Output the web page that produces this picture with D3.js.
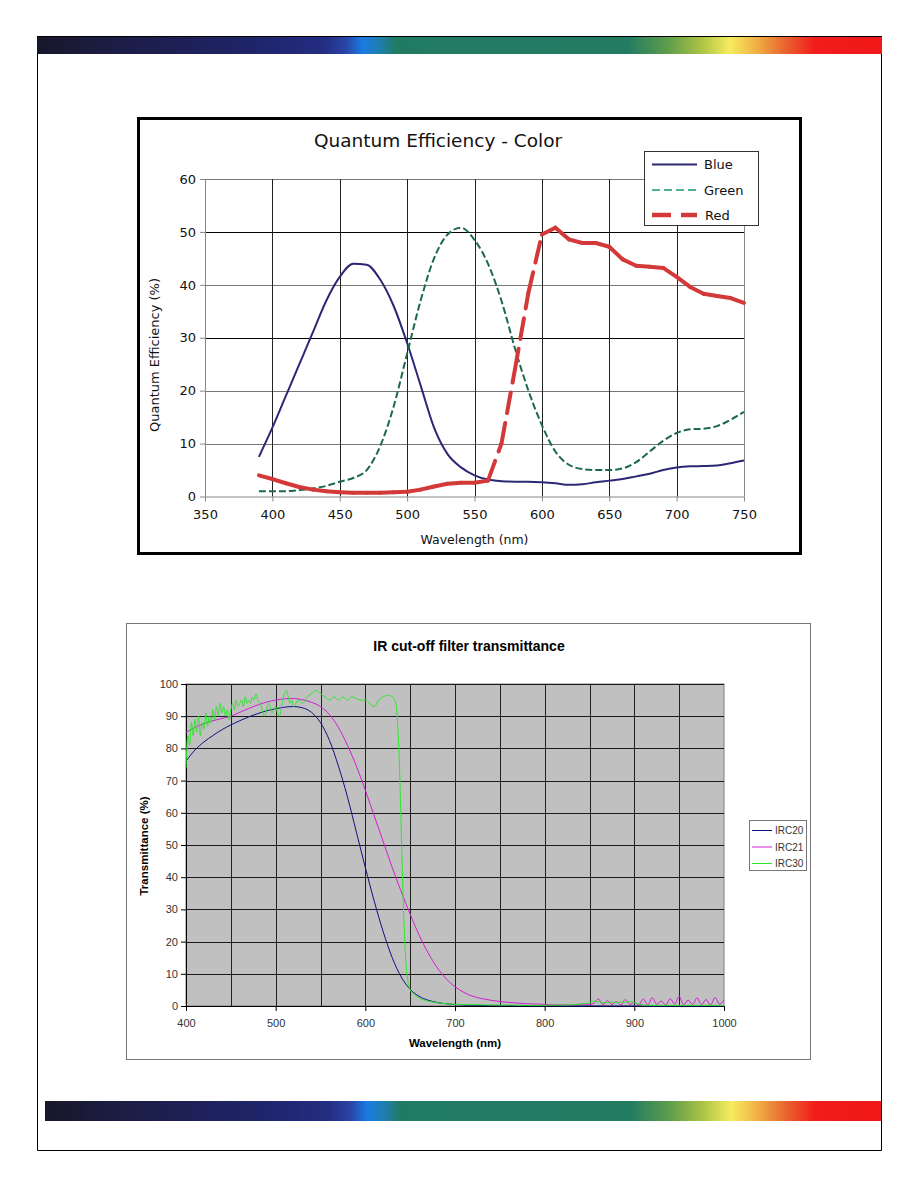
<!DOCTYPE html>
<html><head><meta charset="utf-8">
<script src="https://cdn.jsdelivr.net/npm/d3@7"></script>
<style>body{margin:0;background:#fff;} svg{display:block}</style>
</head><body>
<svg id="page" width="918" height="1188"></svg>
<script>
// ---------- Quantum Efficiency chart data ----------
const qeWavelength = [390,400,410,420,430,440,450,460,470,480,490,500,510,520,530,540,550,560,570,580,590,600,610,620,630,640,650,660,670,680,690,700,710,720,730,740,750];
const qeBlue  = [7.5,13,19,25,31,37,41.5,44,43.8,41,36,29,21,13,8,5.5,4,3.2,2.9,2.8,2.8,2.7,2.5,2.2,2.3,2.7,3.0,3.3,3.8,4.3,5.0,5.5,5.7,5.75,5.85,6.3,6.8];
const qeGreen = [1,1,1,1.2,1.5,2,2.8,3.5,5,9.5,17,27,37,45,49.5,50.8,48.5,44,37,28,20,13.5,8.5,6,5.2,5,5,5.3,6.5,8.5,10.5,12,12.7,12.8,13.3,14.5,16];
const qeRed   = [4,3.3,2.5,1.8,1.3,1.0,0.8,0.7,0.7,0.7,0.8,0.9,1.3,1.9,2.4,2.6,2.6,3.0,10,24,38.5,49.5,50.8,48.6,47.9,47.9,47.2,44.8,43.6,43.4,43.2,41.5,39.6,38.3,37.9,37.5,36.6];
const qeXTicks = [350,400,450,500,550,600,650,700,750];
const qeYTicks = [0,10,20,30,40,50,60];
const qeSeriesNames = ["Blue","Green","Red"];

// ---------- IR cut-off filter chart data ----------
const irc20Wavelength = [400,410,420,430,440,450,460,470,480,490,500,510,520,530,540,550,560,570,580,590,600,610,620,630,640,650,660,670,680,690,700,720,750,800,850,900,950,1000];
const irc20Values = [76,79.5,82,84,85.8,87.3,88.6,89.8,90.8,91.7,92.3,92.8,93,92.6,91.2,88,82.5,74.5,65,54,43,32.5,23,15,9,5.2,3,1.8,1.1,0.7,0.45,0.2,0.1,0.05,0,0,0,0];

const irc21Wavelength = [400,410,420,430,440,450,460,470,480,490,500,510,520,530,540,550,560,570,580,590,600,610,620,630,640,650,660,670,680,690,700,710,720,730,740,750,760,770,780,790,800,
  810,820,830,840,850,855,860,865,870,875,880,885,890,895,900,905,910,915,920,925,930,935,940,945,950,955,960,965,970,975,980,985,990,995,1000];
const irc21Values = [85,86.5,87.7,88.6,89.3,90,91.2,92.4,93.5,94.4,95,95.4,95.5,95.1,94.3,93,90.5,86.5,81,74.5,67,59,51,43,35.5,28.5,22,16.5,12,8.5,6,4.2,3,2.3,1.8,1.4,1.1,0.9,0.7,0.6,0.5,
  0.35,0.4,0.3,0.6,0.5,0.9,2.2,0.4,1.7,0.5,1.4,0.3,2.0,0.5,1.1,0.3,2.2,0.4,2.6,0.5,1.5,0.3,2.3,0.6,3.0,0.4,1.8,0.5,2.5,0.4,2.0,0.3,2.6,0.6,1.8];

const irc30Wavelength = [400,402,404,406,408,410,412,414,416,418,420,422,424,426,428,430,432,434,436,438,440,442,444,446,448,450,452,454,456,458,460,462,464,466,468,470,472,474,476,478,480,482,484,486,488,490,492,494,496,498,500,502,504,506,508,510,512,514,516,518,520,
  525,530,535,540,545,550,555,560,565,570,575,580,585,590,595,600,605,610,615,620,625,630,
  634,636,638,640,642,644,646,648,650,
  655,660,670,680,690,700,720,740,760,780,800,810,820,830,840,845,850,855,860,865,870,875,880,885,890,895,900,905,910,920,940,960,980,1000];
const irc30Values = [74,84,81,88,84,89,85,90,84,88,86,91,87,90,88,92,89,93,90,94,91,93,90,92,89,92,94,92,95,93,94,95,93,96,94,95,94,96,95,97,95,94,93,91,90,92,94,93,91,92,93,91,90,92,95,97,98,96,94,95,93,
  95,94,96,97,98,97,96,95,96,95,96,95,96,95.5,95,95,94,93,95,96,96.5,96,
  94,88,75,55,35,20,11,7,5,
  3.5,2.5,1.5,1.0,0.7,0.5,0.4,0.3,0.3,0.2,0.2,0.3,0.3,0.4,0.6,0.8,1.0,1.6,1.3,1.1,1.0,1.3,0.9,1.3,1.1,1.5,1.0,0.6,0.3,0.2,0.2,0.2,0.2,0.2];
const irXTicks = [400,500,600,700,800,900,1000];
const irXGrid = [450,500,550,600,650,700,750,800,850,900,950];
const irYTicks = [0,10,20,30,40,50,60,70,80,90,100];
const irSeriesNames = ["IRC20","IRC21","IRC30"];

const svg = d3.select("#page");

// ---------- page decoration ----------
const defs = svg.append("defs");
const grad = defs.append("linearGradient").attr("id","spectrum").attr("x1","0").attr("x2","1").attr("y1","0").attr("y2","0");
[[0,"#17172a"],[0.08,"#1c1c42"],[0.25,"#1f2468"],[0.34,"#232d82"],[0.365,"#2a44a6"],[0.385,"#1b7ae2"],[0.405,"#1e7fb0"],[0.425,"#217a62"],
 [0.70,"#237c62"],[0.745,"#5c9c4c"],[0.785,"#a9c244"],[0.82,"#f6ec5e"],[0.85,"#f0b245"],[0.885,"#e8652f"],[0.92,"#f11c1c"],[1,"#f01818"]]
 .forEach(s => grad.append("stop").attr("offset",s[0]).attr("stop-color",s[1]));

svg.append("rect").attr("x",37).attr("y",36).attr("width",845).attr("height",18).attr("fill","url(#spectrum)");
svg.append("line").attr("x1",37).attr("x2",882).attr("y1",36.5).attr("y2",36.5).attr("stroke","#000");
svg.append("rect").attr("x",45).attr("y",1101).attr("width",837).attr("height",20).attr("fill","url(#spectrum)");
svg.append("path").attr("d","M37.5,54 V1150.5 H881.5 V54").attr("fill","none").attr("stroke","#000").attr("stroke-width",1);

// ---------- Quantum Efficiency chart ----------
const qe = svg.append("g");
qe.append("rect").attr("x",138.5).attr("y",118.5).attr("width",662).attr("height",435)
  .attr("fill","#fff").attr("stroke","#000").attr("stroke-width",3);

const xQ = d3.scaleLinear().domain([350,750]).range([205,744]);
const yQ = d3.scaleLinear().domain([0,60]).range([496.5,179]);
const qeFont = "DejaVu Sans, Verdana, sans-serif";

// gridlines
qe.append("g").selectAll("line").data(qeYTicks.filter(v=>v>0)).join("line")
  .attr("x1",xQ(350)).attr("x2",xQ(750))
  .attr("y1",d=>Math.round(yQ(d))+0.5).attr("y2",d=>Math.round(yQ(d))+0.5)
  .attr("stroke",d=>(d===30||d===50)?"#000":"#777").attr("stroke-width",1);
qe.append("g").selectAll("line").data(qeXTicks.filter(v=>v>350)).join("line")
  .attr("x1",d=>Math.round(xQ(d))+0.5).attr("x2",d=>Math.round(xQ(d))+0.5)
  .attr("y1",yQ(0)).attr("y2",yQ(60))
  .attr("stroke",d=>d===750?"#888":"#222").attr("stroke-width",1);

// axes
const qeLeft = qe.append("g").attr("transform",`translate(${xQ(350)},0)`)
  .call(d3.axisLeft(yQ).tickValues(qeYTicks).tickSize(5).tickSizeOuter(0).tickPadding(4));
const qeBottom = qe.append("g").attr("transform",`translate(0,${yQ(0)})`)
  .call(d3.axisBottom(xQ).tickValues(qeXTicks).tickSize(5).tickSizeOuter(0).tickPadding(8));
[qeLeft,qeBottom].forEach(a=>{
  a.attr("font-family",qeFont).attr("font-size",13);
  a.selectAll("path,line").attr("stroke","#888");
  a.selectAll("text").attr("fill","#111");
});

// series
const qeLineSmooth = d3.line().x(d=>xQ(d[0])).y(d=>yQ(d[1])).curve(d3.curveMonotoneX);
qe.append("path").attr("d",qeLineSmooth(d3.zip(qeWavelength,qeBlue)))
  .attr("fill","none").attr("stroke","#2c2876").attr("stroke-width",2);
qe.append("path").attr("d",qeLineSmooth(d3.zip(qeWavelength,qeGreen)))
  .attr("fill","none").attr("stroke","#1d6a4b").attr("stroke-width",2).attr("stroke-dasharray","7,3");
// red dashed: dash pattern restarts on every segment (as in the original rendering)
const redPts = d3.zip(qeWavelength,qeRed);
const segLine = d3.line().x(d=>xQ(d[0])).y(d=>yQ(d[1]));
qe.append("g").selectAll("path").data(d3.pairs(redPts)).join("path")
  .attr("d",d=>segLine(d)).attr("fill","none").attr("stroke","#d4393a").attr("stroke-width",4)
  .attr("stroke-dasharray","21,10").attr("stroke-linecap","round");

// title & axis labels
qe.append("text").attr("x",314).attr("y",147).attr("font-family",qeFont).attr("font-size",18.5).attr("fill","#111")
  .text("Quantum Efficiency - Color");
qe.append("text").attr("x",(xQ(350)+xQ(750))/2).attr("y",544).attr("text-anchor","middle")
  .attr("font-family",qeFont).attr("font-size",12.5).attr("fill","#111").text("Wavelength (nm)");
qe.append("text").attr("transform","translate(159,355) rotate(-90)").attr("text-anchor","middle")
  .attr("font-family",qeFont).attr("font-size",13).attr("fill","#111").text("Quantum Efficiency (%)");

// legend
const qeLeg = qe.append("g");
qeLeg.append("rect").attr("x",644.5).attr("y",151.5).attr("width",114).attr("height",74)
  .attr("fill","#fff").attr("stroke","#333").attr("stroke-width",1);
const qeLegStyles = [
  {stroke:"#2c2876", w:2, dash:null, y:164.5},
  {stroke:"#4fb090", w:2, dash:"8,4", y:190},
  {stroke:"#d4393a", w:4.5, dash:"19,10", y:215}
];
qeSeriesNames.forEach((name,i)=>{
  const s = qeLegStyles[i];
  qeLeg.append("line").attr("x1",652).attr("x2",697).attr("y1",s.y).attr("y2",s.y)
    .attr("stroke",s.stroke).attr("stroke-width",s.w).attr("stroke-dasharray",s.dash);
  qeLeg.append("text").attr("x",i===2?705:704).attr("y",s.y+4.8).attr("font-family",qeFont).attr("font-size",13)
    .attr("fill","#111").text(name);
});

// ---------- IR cut-off filter chart ----------
const ir = svg.append("g");
const irFont = "Liberation Sans, Arial, sans-serif";
ir.append("rect").attr("x",126.5).attr("y",623.5).attr("width",684).attr("height",436)
  .attr("fill","#fff").attr("stroke","#777").attr("stroke-width",1);

const xI = d3.scaleLinear().domain([400,1000]).range([186,724]);
const yI = d3.scaleLinear().domain([0,100]).range([1006,684]);

ir.append("rect").attr("x",xI(400)).attr("y",yI(100)).attr("width",xI(1000)-xI(400)).attr("height",yI(0)-yI(100))
  .attr("fill","#c0c0c0").attr("stroke","#808080");
ir.append("g").selectAll("line").data(irYTicks.filter(v=>v>0)).join("line")
  .attr("x1",xI(400)).attr("x2",xI(1000))
  .attr("y1",d=>Math.round(yI(d))+0.5).attr("y2",d=>Math.round(yI(d))+0.5)
  .attr("stroke","#1a1a1a").attr("stroke-width",1);
ir.append("g").selectAll("line").data(irXGrid).join("line")
  .attr("x1",d=>Math.round(xI(d))+0.5).attr("x2",d=>Math.round(xI(d))+0.5)
  .attr("y1",yI(0)).attr("y2",yI(100))
  .attr("stroke","#222").attr("stroke-width",1);

const irLeft = ir.append("g").attr("transform",`translate(${xI(400)},0)`)
  .call(d3.axisLeft(yI).tickValues(irYTicks).tickSize(5).tickSizeOuter(0).tickPadding(3));
const irBottom = ir.append("g").attr("transform",`translate(0,${yI(0)})`)
  .call(d3.axisBottom(xI).tickValues(irXTicks).tickFormat(d3.format("d")).tickSize(5).tickSizeOuter(0).tickPadding(8));
[irLeft,irBottom].forEach(a=>{
  a.attr("font-family",irFont).attr("font-size",11);
  a.selectAll("path,line").attr("stroke","#000");
  a.selectAll("text").attr("fill","#333");
});

const irLine = d3.line().x(d=>xI(d[0])).y(d=>yI(d[1])).curve(d3.curveMonotoneX);
const irColors = ["#101080","#d21ed2","#2ee82e"];
ir.append("path").attr("d",irLine(d3.zip(irc20Wavelength,irc20Values)))
  .attr("fill","none").attr("stroke",irColors[0]).attr("stroke-width",1);
ir.append("path").attr("d",irLine(d3.zip(irc21Wavelength,irc21Values)))
  .attr("fill","none").attr("stroke",irColors[1]).attr("stroke-width",1);
ir.append("path").attr("d",irLine(d3.zip(irc30Wavelength,irc30Values)))
  .attr("fill","none").attr("stroke",irColors[2]).attr("stroke-width",1);

ir.append("text").attr("x",469).attr("y",651).attr("text-anchor","middle")
  .attr("font-family",irFont).attr("font-weight","bold").attr("font-size",14).attr("fill","#000")
  .text("IR cut-off filter transmittance");
ir.append("text").attr("x",(xI(400)+xI(1000))/2).attr("y",1047).attr("text-anchor","middle")
  .attr("font-family",irFont).attr("font-weight","bold").attr("font-size",11.5).attr("fill","#000")
  .text("Wavelength (nm)");
ir.append("text").attr("transform","translate(148,846) rotate(-90)").attr("text-anchor","middle")
  .attr("font-family",irFont).attr("font-weight","bold").attr("font-size",11.5).attr("fill","#000")
  .text("Transmittance (%)");

const irLeg = ir.append("g");
irLeg.append("rect").attr("x",749.5).attr("y",820.5).attr("width",57).attr("height",50)
  .attr("fill","#fff").attr("stroke","#777");
irSeriesNames.forEach((name,i)=>{
  const y = 830.5 + i*16.5;
  irLeg.append("line").attr("x1",752).attr("x2",772).attr("y1",y).attr("y2",y)
    .attr("stroke",irColors[i]).attr("stroke-width",1);
  irLeg.append("text").attr("x",775).attr("y",y+3.6).attr("font-family",irFont).attr("font-size",10)
    .attr("fill","#333").text(name);
});
</script>
</body></html>
